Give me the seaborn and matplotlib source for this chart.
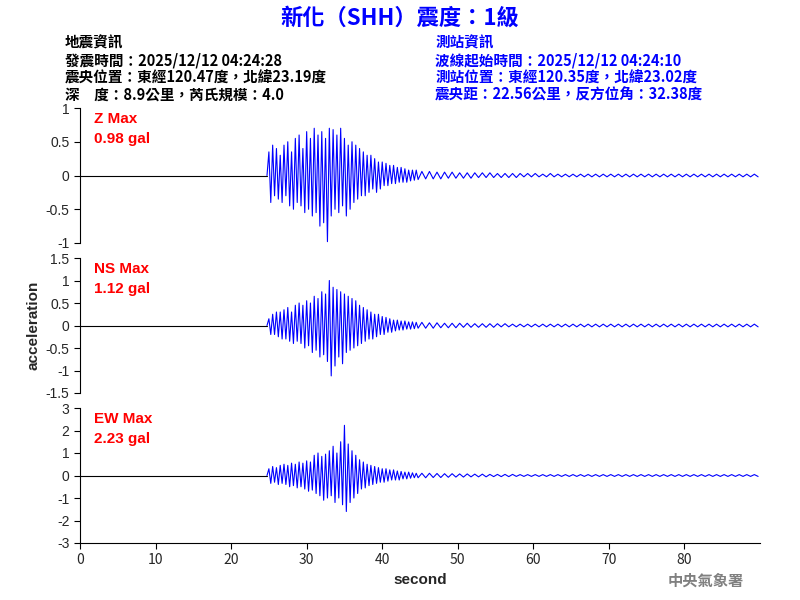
import numpy as np
import matplotlib
matplotlib.use("Agg")
import matplotlib.pyplot as plt
import seaborn as sns

sns.set_style("white")
plt.rcParams['font.family'] = ['Noto Sans CJK TC', 'DejaVu Sans']

# peaks, every 0.25 s from 24.75 s to 45 s
z_main = [0, 0.35, -0.4, 0.45, -0.3, 0.4, -0.35, 0.3, -0.4,
          0.45, -0.3, 0.5, -0.45, 0.35, -0.5, 0.55, -0.4,
          0.6, -0.45, 0.4, -0.55, 0.65, -0.5, 0.55, -0.6,
          0.7, -0.55, 0.6, -0.75, 0.65, -0.7, 0.55, -0.98,
          0.7, -0.6, 0.68, -0.5, 0.6, -0.55, 0.7, -0.45,
          0.55, -0.6, 0.45, -0.5, 0.5, -0.4, 0.45, -0.35,
          0.4, -0.3, 0.35, -0.3, 0.3, -0.25, 0.3, -0.2,
          0.25, -0.25, 0.2, -0.2, 0.2, -0.15, 0.18, -0.15,
          0.15, -0.12, 0.15, -0.12, 0.12, -0.1, 0.12, -0.1,
          0.1, -0.1, 0.08, -0.08, 0.08, -0.07, 0.08, -0.06]
ns_main = [0, 0.15, -0.2, 0.25, -0.2, 0.3, -0.25, 0.3, -0.3,
           0.35, -0.3, 0.4, -0.35, 0.3, -0.4, 0.45, -0.35,
           0.5, -0.4, 0.45, -0.5, 0.55, -0.45, 0.5, -0.6,
           0.65, -0.55, 0.6, -0.7, 0.75, -0.65, 0.7, -0.8,
           1.0, -1.12, 0.85, -0.9, 0.8, -0.7, 0.75, -0.85,
           0.7, -0.6, 0.65, -0.55, 0.6, -0.5, 0.55, -0.45,
           0.45, -0.4, 0.4, -0.35, 0.35, -0.3, 0.3, -0.3,
           0.25, -0.25, 0.25, -0.2, 0.2, -0.2, 0.18, -0.15,
           0.15, -0.15, 0.12, -0.12, 0.12, -0.1, 0.1, -0.1,
           0.1, -0.08, 0.08, -0.08, 0.08, -0.07, 0.07, -0.06]
ew_main = [0, 0.3, -0.35, 0.4, -0.3, 0.35, -0.4, 0.45, -0.35,
           0.5, -0.4, 0.45, -0.5, 0.55, -0.45, 0.5, -0.55,
           0.6, -0.5, 0.55, -0.6, 0.65, -0.7, 0.6, -0.65,
           0.9, -0.8, 1.0, -0.9, 0.85, -1.1, 0.95, -1.0,
           1.1, -0.9, 1.3, -1.2, 1.0, -1.0, 1.5, -1.3,
           2.23, -1.6, 1.4, -1.2, 1.1, -1.0, 0.9, -0.8,
           0.7, -0.6, 0.6, -0.55, 0.5, -0.45, 0.45, -0.4,
           0.4, -0.35, 0.35, -0.3, 0.3, -0.3, 0.3, -0.25,
           0.25, -0.2, 0.25, -0.2, 0.2, -0.2, 0.18, -0.15,
           0.15, -0.15, 0.15, -0.12, 0.12, -0.1, 0.1, -0.1]
# coda, one peak per 0.5 s from 45.25 s to 90 s
z_tail = [0.06, -0.05, 0.06, -0.05, 0.05, -0.05, 0.05, -0.04, 0.05, -0.04,
          0.04, -0.04, 0.04, -0.04, 0.04, -0.03, 0.04, -0.03, 0.04, -0.03,
          0.03, -0.03, 0.03, -0.03, 0.03, -0.03, 0.03, -0.02, 0.03, -0.02,
          0.03, -0.02, 0.02, -0.02, 0.03, -0.02, 0.02, -0.02, 0.02, -0.02,
          0.02, -0.02, 0.02, -0.02, 0.02, -0.02, 0.02, -0.02, 0.02, -0.02,
          0.02, -0.02, 0.02, -0.02, 0.02, -0.02, 0.02, -0.02, 0.02, -0.02,
          0.02, -0.02, 0.02, -0.02, 0.02, -0.02, 0.02, -0.02, 0.02, -0.02,
          0.02, -0.02, 0.02, -0.02, 0.02, -0.02, 0.02, -0.02, 0.02, -0.02,
          0.02, -0.02, 0.02, -0.02, 0.02, -0.02, 0.02, -0.02, 0.02, -0.02]
ns_tail = [0.07, -0.06, 0.06, -0.06, 0.06, -0.05, 0.05, -0.05, 0.05, -0.05,
           0.05, -0.04, 0.05, -0.04, 0.04, -0.04, 0.04, -0.04, 0.04, -0.04,
           0.04, -0.03, 0.04, -0.03, 0.03, -0.03, 0.03, -0.03, 0.03, -0.03,
           0.03, -0.03, 0.03, -0.03, 0.03, -0.03, 0.03, -0.03, 0.03, -0.03,
           0.03, -0.03, 0.03, -0.03, 0.03, -0.03, 0.03, -0.03, 0.03, -0.03,
           0.03, -0.03, 0.03, -0.03, 0.03, -0.03, 0.03, -0.03, 0.03, -0.03,
           0.03, -0.03, 0.03, -0.03, 0.03, -0.03, 0.03, -0.03, 0.03, -0.03,
           0.03, -0.03, 0.03, -0.03, 0.03, -0.03, 0.03, -0.03, 0.03, -0.03,
           0.03, -0.03, 0.03, -0.03, 0.03, -0.03, 0.03, -0.03, 0.03, -0.03]
ew_tail = [0.1, -0.1, 0.1, -0.09, 0.09, -0.09, 0.08, -0.08, 0.08, -0.07,
           0.07, -0.07, 0.07, -0.06, 0.06, -0.06, 0.06, -0.06, 0.05, -0.05,
           0.05, -0.05, 0.05, -0.05, 0.05, -0.04, 0.04, -0.04, 0.04, -0.04,
           0.04, -0.04, 0.04, -0.04, 0.04, -0.04, 0.04, -0.04, 0.04, -0.04,
           0.04, -0.04, 0.04, -0.04, 0.04, -0.04, 0.04, -0.04, 0.04, -0.04,
           0.04, -0.04, 0.04, -0.04, 0.04, -0.04, 0.04, -0.04, 0.04, -0.04,
           0.04, -0.04, 0.04, -0.04, 0.04, -0.04, 0.04, -0.04, 0.04, -0.04,
           0.04, -0.04, 0.04, -0.04, 0.04, -0.04, 0.04, -0.04, 0.04, -0.04,
           0.04, -0.04, 0.04, -0.04, 0.04, -0.04, 0.04, -0.04, 0.04, -0.04]

components = ["Z", "NS", "EW"]
max_gal = [0.98, 1.12, 2.23]
ylims = [1, 1.5, 3]
yticks = [[-1, -0.5, 0, 0.5, 1],
          [-1.5, -1, -0.5, 0, 0.5, 1, 1.5],
          [-3, -2, -1, 0, 1, 2, 3]]
yticklabels = [["-1", "-0.5", "0", "0.5", "1"],
               ["-1.5", "-1", "-0.5", "0", "0.5", "1", "1.5"],
               ["-3", "-2", "-1", "0", "1", "2", "3"]]
traces = [(z_main, z_tail), (ns_main, ns_tail), (ew_main, ew_tail)]
onset = 24.75

fig = plt.figure(figsize=(8, 6), dpi=100)
bottoms = [0.595, 0.345, 0.095]
for i, comp in enumerate(components):
    ax = fig.add_axes([0.1, bottoms[i], 0.85, 0.225])
    main, tail = traces[i]
    t1 = onset + np.arange(len(main)) * 0.25
    t2 = t1[-1] + 0.5 + np.arange(len(tail)) * 0.5
    ax.plot([0, onset], [0, 0], color="black", lw=0.8)
    ax.plot(np.concatenate([t1, t2]), np.concatenate([main, tail]), color="blue", lw=0.8)
    ax.set_xlim(0, 90)
    ax.set_ylim(-ylims[i], ylims[i])
    ax.set_yticks(yticks[i])
    ax.set_yticklabels(yticklabels[i], fontsize=10, family="Liberation Sans")
    for s in ["top", "right"]:
        ax.spines[s].set_visible(False)
    ax.spines["left"].set_color("black")
    ax.tick_params(axis="y", left=True, length=4, color="black")
    if i < 2:
        ax.spines["bottom"].set_visible(False)
        ax.set_xticks([])
    else:
        ax.spines["bottom"].set_color("black")
        ax.set_xticks([0, 10, 20, 30, 40, 50, 60, 70, 80])
        ax.tick_params(axis="x", bottom=True, length=4, color="black", labelsize=10)
        ax.set_xlabel("second", fontsize=11, fontweight="bold", family="Liberation Sans")
    ax.text(0.02, 0.97, f"{comp} Max\n{max_gal[i]:.2f} gal", transform=ax.transAxes,
            color="red", fontsize=11, fontweight="bold", va="top", ha="left",
            family="Liberation Sans", linespacing=1.5)
    if i == 1:
        ax.set_ylabel("acceleration", fontsize=11, fontweight="bold",
                      family="Liberation Sans", labelpad=4)

fig.text(0.5, 0.97, "新化（SHH）震度：1級", color="blue", fontsize=16,
         fontweight="bold", ha="center", va="center")
left_info = ("地震資訊\n發震時間：2025/12/12 04:24:28\n"
             "震央位置：東經120.47度，北緯23.19度\n深　度：8.9公里，芮氏規模：4.0")
right_info = ("測站資訊\n波線起始時間：2025/12/12 04:24:10\n"
              "測站位置：東經120.35度，北緯23.02度\n震央距：22.56公里，反方位角：32.38度")
fig.text(0.081, 0.942, left_info, color="black", fontsize=10.5, va="top",
         linespacing=1.1, fontweight="bold")
fig.text(0.544, 0.942, right_info, color="blue", fontsize=10.5, va="top",
         linespacing=1.1, fontweight="bold")
fig.text(0.93, 0.032, "中央氣象署", color="gray", fontsize=11, ha="right",
         va="center", fontweight="bold")

fig.savefig("out.png", dpi=100)
